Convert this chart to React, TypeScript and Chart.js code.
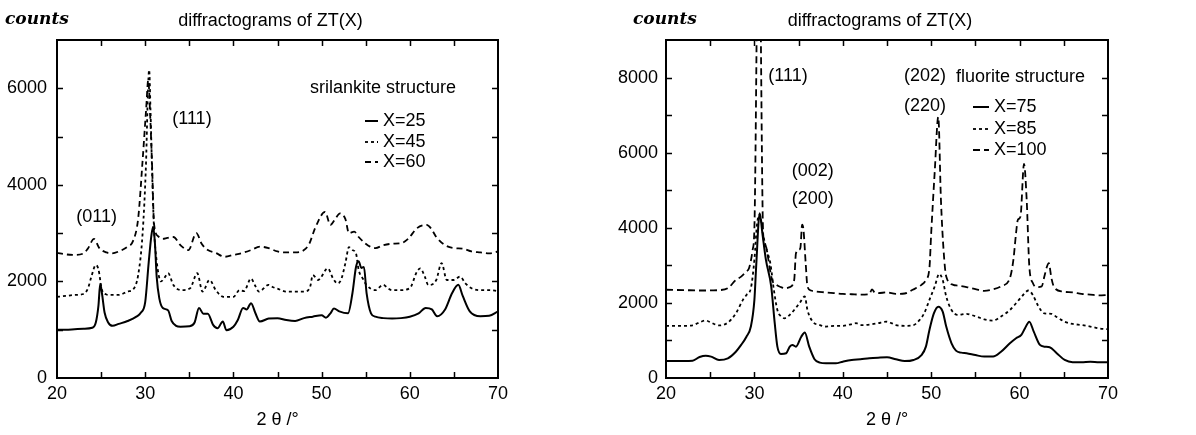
import React, { useEffect, useRef } from "react";
import { Chart, registerables } from "chart.js";
Chart.register(...registerables);

// ---------- data: left panel (srilankite structure) ----------
const L25x = [20, 21, 22, 23, 24, 24.4, 24.7, 24.9, 25.1, 25.4, 25.8, 26.3, 27, 28, 29, 29.5, 30, 30.4, 30.7, 30.9, 31.1, 31.3, 31.6, 32, 32.6, 33, 33.5, 34, 35, 35.6, 36.1, 36.6, 37.1, 37.7, 38.2, 38.8, 39.2, 40, 40.5, 41.1, 41.5, 42, 42.5, 43, 44, 45, 46, 47, 48, 49, 50, 50.5, 51, 51.4, 52, 53, 53.5, 53.9, 54.2, 54.5, 54.8, 55.1, 55.6, 56.1, 57, 58, 59, 60, 61, 61.8, 62.5, 63.1, 64, 64.8, 65.5, 66, 66.8, 68, 69, 70];
const L25y = [1000, 1000, 1010, 1020, 1040, 1150, 1500, 1950, 1750, 1350, 1150, 1080, 1120, 1180, 1270, 1350, 1570, 2400, 2950, 3130, 2800, 2100, 1650, 1450, 1400, 1180, 1080, 1060, 1070, 1150, 1450, 1330, 1330, 1100, 1030, 1170, 990, 1060, 1200, 1450, 1420, 1550, 1340, 1170, 1230, 1240, 1200, 1180, 1240, 1270, 1300, 1250, 1340, 1440, 1380, 1340, 1760, 2300, 2420, 2280, 2300, 1760, 1340, 1270, 1240, 1230, 1240, 1270, 1340, 1450, 1420, 1280, 1420, 1760, 1930, 1700, 1380, 1280, 1290, 1380];

const L45x = [20, 21, 22, 23, 23.5, 23.9, 24.4, 24.7, 25.1, 25.6, 26, 27, 28, 28.7, 29.2, 29.7, 30.1, 30.3, 30.45, 30.6, 30.8, 31, 31.3, 31.8, 32.2, 32.6, 33.2, 34.1, 35.1, 35.9, 36.5, 37.3, 38, 38.9, 40, 40.7, 41.2, 42, 42.5, 42.9, 44, 44.5, 45, 46, 47, 48.1, 48.7, 49, 49.6, 50.7, 51.3, 51.8, 52.2, 52.7, 53.1, 53.5, 53.9, 54.2, 54.7, 55.1, 56.1, 57, 57.5, 58, 58.9, 60, 60.8, 61.2, 61.7, 62.1, 63, 63.6, 64.2, 65, 65.7, 66.3, 67, 68, 69, 70];
const L45y = [1680, 1700, 1720, 1740, 1850, 2100, 2340, 2250, 1820, 1730, 1720, 1720, 1790, 1850, 2130, 2980, 4490, 5880, 6380, 5550, 4160, 3100, 2420, 2000, 2080, 2170, 1925, 1820, 1860, 2170, 1790, 2030, 1820, 1680, 1680, 1820, 1800, 2060, 1900, 1790, 1930, 1880, 1850, 1790, 1790, 1790, 1890, 2130, 2030, 2270, 2060, 1960, 2030, 2380, 2710, 2650, 2580, 2240, 2050, 1925, 1820, 1930, 1860, 1820, 1820, 1860, 2200, 2270, 2100, 1925, 2030, 2380, 2030, 2030, 2100, 1960, 1860, 1820, 1820, 1800];

const L60x = [20, 21, 22, 23, 23.5, 24.2, 24.8, 25.6, 26.2, 27, 28, 28.6, 29.2, 29.7, 30.1, 30.35, 30.55, 30.8, 31, 31.5, 32, 32.5, 33.2, 34, 34.9, 35.8, 36.4, 37.1, 38, 39, 40, 41, 42, 43, 44, 45, 46, 47, 48, 48.6, 49.3, 50.4, 51, 51.5, 52.1, 52.7, 53.1, 53.7, 54.2, 55, 55.5, 56.1, 57, 58, 59, 59.8, 60.8, 61.9, 62.4, 63, 64, 65, 66, 67, 68, 69, 70];
const L60y = [2590, 2560, 2550, 2580, 2680, 2880, 2690, 2600, 2580, 2620, 2720, 2830, 3300, 4490, 5550, 6170, 5500, 4300, 3190, 2930, 2880, 2900, 2920, 2750, 2650, 3000, 2780, 2650, 2590, 2510, 2550, 2590, 2650, 2720, 2690, 2620, 2600, 2600, 2650, 2780, 3120, 3440, 3170, 3280, 3410, 3290, 3000, 3030, 2920, 2780, 2720, 2690, 2750, 2780, 2790, 2880, 3100, 3170, 3100, 2920, 2750, 2690, 2680, 2620, 2600, 2580, 2620];

// ---------- data: right panel (fluorite structure) ----------
const R75x = [20, 21, 22, 23, 23.8, 24.5, 25.1, 26, 27, 27.9, 28.5, 29.1, 29.6, 30, 30.2, 30.6, 30.9, 31.3, 31.9, 32.3, 32.6, 33, 33.6, 34, 34.3, 34.7, 35.3, 35.7, 36.2, 36.8, 37.4, 38.1, 39.2, 40, 41, 42, 43, 44, 45, 46, 47, 48, 48.9, 49.4, 49.8, 50.3, 50.8, 51.3, 51.7, 52.3, 52.8, 53.4, 54, 55, 56, 57, 57.9, 58.9, 59.6, 60.2, 60.6, 61.1, 61.6, 62.3, 62.8, 63.4, 64.2, 65.1, 66, 67, 68, 69, 70];
const R75y = [450, 450, 450, 460, 560, 595, 570, 480, 525, 700, 880, 1100, 1370, 2080, 2970, 4390, 3860, 3150, 2440, 1460, 835, 640, 660, 835, 880, 835, 1100, 1210, 835, 500, 410, 390, 390, 435, 480, 500, 525, 540, 550, 500, 450, 480, 610, 835, 1280, 1720, 1900, 1770, 1370, 925, 730, 675, 660, 610, 570, 570, 700, 925, 1060, 1150, 1320, 1500, 1235, 880, 835, 820, 660, 480, 420, 420, 435, 420, 420];

const R85x = [20, 22, 23, 23.6, 24.5, 25.1, 26, 27, 27.9, 28.7, 29.1, 29.6, 30, 30.3, 30.6, 31, 31.4, 31.8, 32.2, 32.6, 33, 33.4, 34, 34.5, 35.1, 35.7, 36, 36.6, 37.4, 38.1, 39.1, 40, 40.9, 41.5, 42.1, 43, 44, 44.9, 45.5, 46, 47, 47.9, 48.7, 49.2, 49.8, 50.4, 50.9, 51.3, 51.7, 52.3, 53, 54, 54.5, 55.1, 56, 57, 57.9, 58.9, 59.6, 60.4, 61, 61.5, 62.1, 62.8, 63.6, 64.1, 65.1, 66, 67, 68, 69, 70];
const R85y = [1390, 1390, 1400, 1460, 1530, 1475, 1400, 1475, 1720, 2080, 2210, 2390, 3150, 4100, 4350, 3800, 3400, 3060, 2350, 1810, 1640, 1590, 1680, 1810, 1990, 2170, 1810, 1500, 1410, 1370, 1390, 1390, 1430, 1460, 1410, 1420, 1460, 1500, 1460, 1410, 1390, 1400, 1550, 1720, 2080, 2440, 2770, 2610, 2170, 1810, 1680, 1710, 1680, 1640, 1560, 1530, 1640, 1810, 1990, 2210, 2330, 2210, 1920, 1720, 1710, 1640, 1500, 1440, 1410, 1370, 1320, 1300];

const R100x = [20, 22, 24, 26, 27, 27.9, 28.5, 29.1, 29.4, 29.8, 30, 30.5, 31, 31.3, 31.7, 32, 32.5, 33, 33.5, 34, 34.5, 34.7, 35, 35.2, 35.4, 35.55, 35.8, 36, 36.4, 37, 38, 39, 40, 41, 42, 43, 43.3, 43.6, 44, 45, 46, 47, 47.9, 48.9, 49.4, 49.8, 50, 50.4, 50.8, 51.1, 51.4, 51.7, 52.5, 53, 54, 55.1, 56, 57, 57.9, 58.9, 59.3, 59.6, 59.8, 60.1, 60.5, 60.8, 61.1, 61.5, 61.9, 62.5, 62.8, 63.1, 63.3, 63.6, 63.9, 64.9, 66, 67, 68, 69, 70];
const R100y = [2350, 2340, 2330, 2340, 2390, 2610, 2700, 2840, 2930, 3410, 4000, 13000, 3800, 3500, 2970, 2610, 2480, 2420, 2390, 2420, 2610, 3320, 3410, 3460, 4080, 3950, 3060, 2440, 2330, 2300, 2280, 2260, 2240, 2230, 2220, 2230, 2360, 2280, 2260, 2280, 2240, 2250, 2350, 2480, 2610, 2930, 3860, 5500, 6950, 4750, 3400, 2700, 2480, 2460, 2420, 2360, 2320, 2360, 2440, 2660, 3150, 3860, 4210, 4300, 5700, 4750, 2970, 2530, 2420, 2440, 2700, 2970, 3060, 2660, 2420, 2300, 2280, 2240, 2220, 2200, 2210];

// ---------- labels ----------
const leftLabels = ["X=25", "X=45", "X=60"];
const rightLabels = ["X=75", "X=85", "X=100"];
const leftPeaks = [
  { text: "(111)", x: 35.3, y: 5360 },
  { text: "(011)", x: 24.5, y: 3330 },
];
const rightPeaks = [
  { text: "(111)", x: 33.8, y: 8030 },
  { text: "(202)", x: 49.3, y: 8030 },
  { text: "(220)", x: 49.3, y: 7250 },
  { text: "(002)", x: 36.6, y: 5520 },
  { text: "(200)", x: 36.6, y: 4770 },
];
const TITLE = "diffractograms of ZT(X)";
const YLABEL = "counts";
const XLABEL = "2 θ /°";

const SANS = '"Liberation Sans", Arial, sans-serif';
const SERIF = '"DejaVu Serif", serif';
const W = 598;
const H = 435;

type Ser = { label: string; xs: number[]; ys: number[]; dash: number[]; width: number };
type Ann = { text: string; x: number; y: number };
type PanelCfg = {
  series: Ser[];
  yMax: number;
  peaks: Ann[];
  padLeft: number;
  padRight: number;
  yTickPad: number;
  structure: string;
  structX: number;
  structY: number;
  legLineX: number;
  legLineLen: number;
  legTextX: number;
  legY: number[];
  countsX: number;
};

function makeDecor(cfg: PanelCfg) {
  return {
    id: "decor",
    afterDraw(chart: any) {
      const { ctx, chartArea: a, scales } = chart;
      const xs = scales.x;
      const ys = scales.y;
      ctx.save();
      ctx.strokeStyle = "#000";
      ctx.fillStyle = "#000";
      ctx.setLineDash([]);
      // frame
      ctx.lineWidth = 2;
      ctx.strokeRect(a.left, a.top, a.right - a.left, a.bottom - a.top);
      // inward ticks
      ctx.lineWidth = 1.5;
      ctx.beginPath();
      for (let v = 25; v < 70; v += 5) {
        const px = Math.round(xs.getPixelForValue(v)) + 0.5;
        ctx.moveTo(px, a.bottom);
        ctx.lineTo(px, a.bottom - 6);
        ctx.moveTo(px, a.top);
        ctx.lineTo(px, a.top + 6);
      }
      for (let v = 1000; v < cfg.yMax; v += 1000) {
        const py = Math.round(ys.getPixelForValue(v)) + 0.5;
        ctx.moveTo(a.left, py);
        ctx.lineTo(a.left + 6, py);
        ctx.moveTo(a.right, py);
        ctx.lineTo(a.right - 6, py);
      }
      ctx.stroke();
      // title & y label
      ctx.textBaseline = "middle";
      ctx.textAlign = "center";
      ctx.font = `18px ${SANS}`;
      ctx.fillText(TITLE, (a.left + a.right) / 2 - 7, 21);
      ctx.textAlign = "left";
      ctx.font = `italic bold 17px ${SERIF}`;
      ctx.fillText(YLABEL, cfg.countsX, 20);
      // peak labels
      ctx.font = `18px ${SANS}`;
      ctx.textAlign = "center";
      for (const p of cfg.peaks) {
        ctx.fillText(p.text, xs.getPixelForValue(p.x), ys.getPixelForValue(p.y));
      }
      // structure title
      ctx.textAlign = "left";
      ctx.fillText(cfg.structure, a.left + cfg.structX, cfg.structY);
      // legend
      cfg.series.forEach((s, i) => {
        const y = cfg.legY[i];
        ctx.lineWidth = s.width;
        ctx.setLineDash(s.dash);
        ctx.beginPath();
        ctx.moveTo(a.left + cfg.legLineX, y);
        ctx.lineTo(a.left + cfg.legLineX + cfg.legLineLen, y);
        ctx.stroke();
        ctx.setLineDash([]);
        ctx.fillText(s.label, a.left + cfg.legTextX, y);
      });
      ctx.restore();
    },
  };
}

function Panel({ cfg, left }: { cfg: PanelCfg; left: number }) {
  const ref = useRef<HTMLCanvasElement | null>(null);
  useEffect(() => {
    if (!ref.current) return;
    const chart = new Chart(ref.current, {
      type: "line",
      data: {
        datasets: cfg.series.map((s) => ({
          label: s.label,
          data: s.xs.map((x, i) => ({ x, y: s.ys[i] })),
          borderColor: "#000",
          borderWidth: s.width,
          borderDash: s.dash,
          pointRadius: 0,
          fill: false,
          cubicInterpolationMode: "monotone" as const,
        })),
      },
      options: {
        animation: false,
        responsive: false,
        maintainAspectRatio: false,
        layout: { padding: { top: 40, right: cfg.padRight, left: 0, bottom: 0 } },
        plugins: { legend: { display: false }, tooltip: { enabled: false }, title: { display: false } },
        scales: {
          x: {
            type: "linear",
            min: 20,
            max: 70,
            grid: { display: false, drawTicks: false },
            border: { display: false },
            ticks: { stepSize: 10, color: "#000", font: { family: SANS, size: 18 }, padding: 5, maxRotation: 0, autoSkip: false },
            title: { display: true, text: XLABEL, color: "#000", font: { family: SANS, size: 18 }, padding: { top: 0, bottom: 4 } },
            afterFit: (s: any) => {
              s.height = 57;
            },
          },
          y: {
            type: "linear",
            min: 0,
            max: cfg.yMax,
            grid: { display: false, drawTicks: false },
            border: { display: false },
            ticks: {
              stepSize: 1000,
              color: "#000",
              font: { family: SANS, size: 18 },
              padding: cfg.yTickPad,
              autoSkip: false,
              callback: (v: any) => (Number(v) % 2000 === 0 ? String(v) : ""),
            },
            afterFit: (s: any) => {
              s.width = cfg.padLeft;
            },
          },
        },
      },
      plugins: [makeDecor(cfg)],
    });
    return () => chart.destroy();
  }, [cfg]);
  return (
    <canvas
      ref={ref}
      width={W}
      height={H}
      style={{ position: "absolute", left, top: 0, width: W, height: H, display: "block" }}
    />
  );
}

const leftCfg: PanelCfg = {
  series: [
    { label: leftLabels[0], xs: L25x, ys: L25y, dash: [], width: 2 },
    { label: leftLabels[1], xs: L45x, ys: L45y, dash: [3, 3], width: 1.8 },
    { label: leftLabels[2], xs: L60x, ys: L60y, dash: [6, 4], width: 1.8 },
  ],
  yMax: 7000,
  peaks: leftPeaks,
  padLeft: 57,
  padRight: 100,
  yTickPad: 10,
  structure: "srilankite structure",
  structX: 253,
  structY: 88,
  legLineX: 308,
  legLineLen: 13,
  legTextX: 326,
  legY: [121, 142, 162],
  countsX: 5,
};

const rightCfg: PanelCfg = {
  series: [
    { label: rightLabels[0], xs: R75x, ys: R75y, dash: [], width: 2 },
    { label: rightLabels[1], xs: R85x, ys: R85y, dash: [3, 3], width: 1.8 },
    { label: rightLabels[2], xs: R100x, ys: R100y, dash: [7, 4], width: 1.8 },
  ],
  yMax: 9000,
  peaks: rightPeaks,
  padLeft: 68,
  padRight: 88,
  yTickPad: 8,
  structure: "fluorite structure",
  structX: 290,
  structY: 77,
  legLineX: 307,
  legLineLen: 16,
  legTextX: 328,
  legY: [107, 129, 150],
  countsX: 35,
};

export default function App() {
  return (
    <div style={{ position: "absolute", left: 0, top: 0, width: 1196, height: 435, background: "#fff", overflow: "hidden" }}>
      <Panel cfg={leftCfg} left={0} />
      <Panel cfg={rightCfg} left={598} />
    </div>
  );
}
